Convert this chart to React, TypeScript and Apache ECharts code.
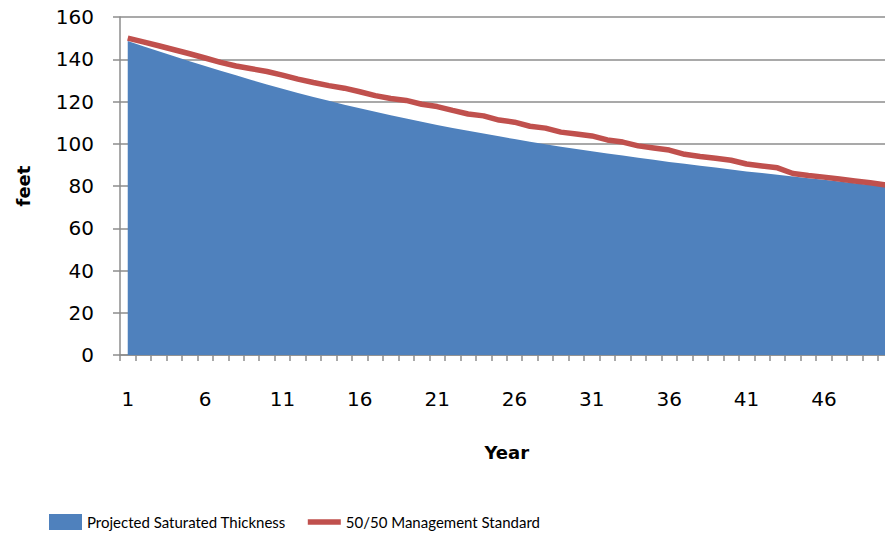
import React, { useEffect, useRef } from "react";
import * as echarts from "echarts";

const years: string[] = Array.from({ length: 50 }, (_, i) => String(i + 1));

const projectedThickness: number[] = [
  148.6, 146.2, 143.8, 141.4, 139.1, 136.8, 134.6, 132.4, 130.2, 128.1,
  126.0, 124.0, 122.1, 120.3, 118.5, 116.8, 115.1, 113.5, 111.9, 110.4,
  108.9, 107.5, 106.1, 104.8, 103.5, 102.2, 101.0, 99.8, 98.6, 97.5,
  96.4, 95.4, 94.4, 93.4, 92.4, 91.4, 90.5, 89.6, 88.7, 87.8,
  86.9, 86.1, 85.3, 84.5, 83.7, 82.9, 82.1, 81.3, 80.5, 79.7,
];

const managementStandard: number[] = [
  150.0, 148.2, 146.4, 144.5, 142.6, 140.6, 138.5, 136.8, 135.5, 134.2,
  132.5, 130.6, 129.0, 127.5, 126.3, 124.6, 122.8, 121.4, 120.5, 118.7,
  117.6, 115.8, 114.1, 113.2, 111.2, 110.2, 108.3, 107.4, 105.5, 104.6,
  103.7, 101.8, 100.8, 99.0, 98.0, 97.0, 95.0, 94.0, 93.1, 92.2,
  90.4, 89.5, 88.6, 85.9, 85.0, 84.2, 83.3, 82.4, 81.5, 80.5,
];

const yMin = 0;
const yMax = 160;
const yInterval = 20;

const seriesNames = ["Projected Saturated Thickness", "50/50 Management Standard"];

export default function App() {
  const ref = useRef<HTMLDivElement>(null);

  useEffect(() => {
    if (!ref.current) return;
    const chart = echarts.init(ref.current, null, { renderer: "svg" });
    const gray = "#8c8c8c";
    const tickFont = "'DejaVu Sans', sans-serif";
    chart.setOption({
      animation: false,
      backgroundColor: "#ffffff",
      grid: { left: 120, top: 17, width: 773.5, bottom: 185, containLabel: false },
      legend: {
        left: 49,
        top: 514,
        padding: 0,
        itemWidth: 33,
        itemHeight: 16,
        itemGap: 22,
        symbolKeepAspect: true,
        textStyle: {
          fontFamily: "Lato, sans-serif",
          fontSize: 15,
          color: "#000",
        },
        data: [
          { name: seriesNames[0], icon: "rect" },
          { name: seriesNames[1], icon: "path://M0,0H33V5.5H0Z" },
        ],
      },
      xAxis: {
        type: "category",
        data: years,
        boundaryGap: true,
        name: "Year",
        nameLocation: "middle",
        nameGap: 88,
        nameTextStyle: { fontFamily: tickFont, fontWeight: "bold", fontSize: 18, color: "#000" },
        axisLine: { lineStyle: { color: gray, width: 1.5 } },
        axisTick: { show: true, interval: 0, length: 6, lineStyle: { color: gray, width: 1.5 } },
        axisLabel: { interval: 4, margin: 34, fontFamily: tickFont, fontSize: 20, color: "#000" },
        splitLine: { show: false },
      },
      yAxis: {
        type: "value",
        min: yMin,
        max: yMax,
        interval: yInterval,
        name: "feet",
        nameLocation: "middle",
        nameGap: 88,
        nameRotate: 90,
        nameTextStyle: { fontFamily: tickFont, fontWeight: "bold", fontSize: 18, color: "#000" },
        axisLine: { show: true, lineStyle: { color: gray, width: 1.5 } },
        axisTick: { show: true, length: 7, lineStyle: { color: gray, width: 1.5 } },
        axisLabel: { margin: 26, fontFamily: tickFont, fontSize: 20, color: "#000" },
        splitLine: { show: true, lineStyle: { color: gray, width: 1.5 } },
      },
      series: [
        {
          name: seriesNames[0],
          type: "line",
          data: projectedThickness,
          symbol: "none",
          lineStyle: { width: 0 },
          itemStyle: { color: "#4F81BD" },
          areaStyle: { color: "#4F81BD", opacity: 1 },
          z: 2,
        },
        {
          name: seriesNames[1],
          type: "line",
          data: managementStandard,
          symbol: "none",
          lineStyle: { width: 5.5, color: "#C0504D" },
          itemStyle: { color: "#C0504D" },
          z: 3,
        },
      ],
    });
    return () => chart.dispose();
  }, []);

  return (
    <div
      ref={ref}
      style={{ position: "fixed", left: 0, top: 0, width: 900, height: 540, background: "#fff" }}
    />
  );
}
